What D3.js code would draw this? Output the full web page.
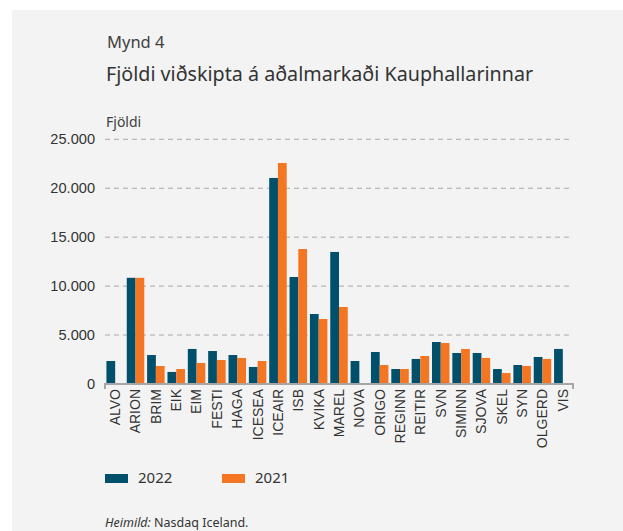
<!DOCTYPE html>
<html><head><meta charset="utf-8">
<script src="https://cdn.jsdelivr.net/npm/d3@7"></script>
<style>
html,body{margin:0;padding:0;background:#fff;}
svg{display:block;font-family:"Noto Sans","Open Sans",sans-serif;}
</style></head>
<body><svg id="c" width="623" height="531"></svg>
<script>
const categories = ["ALVO","ARION","BRIM","EIK","EIM","FESTI","HAGA","ICESEA","ICEAIR","ISB","KVIKA","MAREL","NOVA","ORIGO","REGINN","REITIR","SVN","SIMINN","SJOVA","SKEL","SYN","OLGERD","VIS"];
const values2022 = [2350,10850,2960,1230,3580,3370,2960,1740,21050,10930,7150,13490,2350,3270,1530,2560,4290,3170,3170,1530,1940,2760,3580];
const values2021 = [null,10850,1840,1530,2150,2450,2660,2350,22580,13790,6640,7870,null,1940,1530,2860,4190,3580,2660,1120,1840,2560,null];
const seriesNames = ["2022","2021"];
const yTicks = [0,5000,10000,15000,20000,25000];
const colors = ["#00506b","#f47623"];

const svg = d3.select("#c");
svg.append("rect").attr("x",12).attr("y",10).attr("width",611).attr("height",521).attr("fill","#f3f3f3");

const m = {left:105, right:573, top:139.3, bottom:384};
const x = d3.scaleBand().domain(categories).range([m.left,m.right]).paddingInner(0.14).paddingOuter(0.07);
const x1 = d3.scaleBand().domain(seriesNames).range([0,x.bandwidth()]);
const y = d3.scaleLinear().domain([0,25000]).range([m.bottom,m.top]);
const fmt = v => d3.format(",")(v).replace(/,/g,".");

// y axis labels
const yAxis = d3.axisLeft(y).tickValues(yTicks).tickFormat(fmt).tickSize(0).tickPadding(10);
const gy = svg.append("g").attr("transform",`translate(${m.left},0)`).call(yAxis);
gy.select(".domain").remove();
gy.selectAll("text").attr("fill","#333").style("font-size","14.6px");
// gridlines
svg.append("g").selectAll("line").data(yTicks.filter(d=>d>0)).join("line")
  .attr("x1",m.left).attr("x2",m.right).attr("y1",d=>y(d)).attr("y2",d=>y(d))
  .attr("stroke","#a9a9a9").attr("stroke-width",1).attr("stroke-dasharray","5,4");

// bars
const data = categories.map((c,i)=>({c, vals:[values2022[i],values2021[i]]}));
const g = svg.append("g");
g.selectAll("g").data(data).join("g").attr("transform",d=>`translate(${x(d.c)},0)`)
 .selectAll("rect").data(d=>d.vals.map((v,j)=>({v,s:seriesNames[j],j})).filter(e=>e.v!=null))
 .join("rect").attr("x",e=>x1(e.s)).attr("width",x1.bandwidth())
 .attr("y",e=>y(e.v)).attr("height",e=>y(0)-y(e.v)).attr("fill",e=>colors[e.j]);

// x axis
const xAxis = d3.axisBottom(x).tickSize(0).tickPadding(4);
const gx = svg.append("g").attr("transform",`translate(0,${m.bottom})`).call(xAxis);
gx.select(".domain").attr("stroke","#a6a6a6").attr("stroke-width",2).attr("d",`M${m.left},5V0H${m.right}V5`);
gx.selectAll("text").attr("fill","#333").style("font-size","14px")
  .attr("transform","rotate(-90)").attr("text-anchor","end").attr("x",-5).attr("y",0).attr("dy","0.35em");

// titles
svg.append("text").attr("x",107).attr("y",48).text("Mynd 4").attr("fill","#404040").style("font-size","16.5px");
svg.append("text").attr("x",106).attr("y",81).text("Fjöldi viðskipta á aðalmarkaði Kauphallarinnar").attr("fill","#333").style("font-size","19.7px");
svg.append("text").attr("x",106).attr("y",127).text("Fjöldi").attr("fill","#404040").style("font-size","14px");

// legend
const lg = svg.append("g");
seriesNames.forEach((s,i)=>{
  const lx = 105 + i*117;
  lg.append("rect").attr("x",lx).attr("y",474).attr("width",23).attr("height",9).attr("fill",colors[i]);
  lg.append("text").attr("x",lx+33).attr("y",483).text(s).attr("fill","#333").style("font-size","15px");
});

// source
const src = svg.append("text").attr("x",105).attr("y",527).attr("fill","#333").style("font-size","12.5px");
src.append("tspan").text("Heimild:").style("font-style","italic");
src.append("tspan").text(" Nasdaq Iceland.");
</script></body></html>
